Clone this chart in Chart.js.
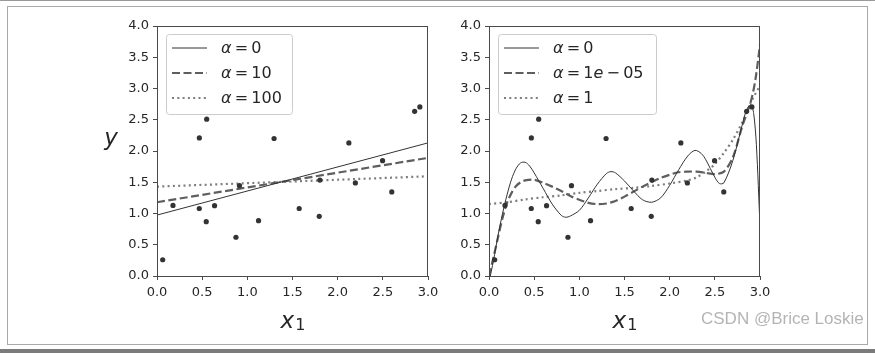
<!DOCTYPE html>
<html>
<head>
<meta charset="utf-8">
<script src="https://cdn.jsdelivr.net/npm/chart.js@4.4.1/dist/chart.umd.min.js"></script>
<style>
  html, body { margin: 0; padding: 0; background: #fff; width: 875px; height: 353px; overflow: hidden; }
  body { position: relative; }
  #topline { position: absolute; left: 0; top: 0; width: 875px; height: 1px; background: #9a9a9a; }
  #frame { position: absolute; left: 7px; top: 6px; width: 859px; height: 337px; border: 1px solid #a9a9a9; }
  #band { position: absolute; left: 0; top: 349px; width: 875px; height: 4px; background: #7b7b7b; }
  canvas { position: absolute; }
  #left { left: 90px; top: 10px; }
  #right { left: 436px; top: 10px; }
  #mark { position: absolute; left: 701px; top: 309px; font: 17px "Liberation Sans", Arial, sans-serif; color: #b4b4b4; white-space: nowrap; }
</style>
</head>
<body>
<div id="topline"></div>
<div id="frame"></div>
<div id="band"></div>
<canvas id="left" width="354" height="335"></canvas>
<canvas id="right" width="340" height="335"></canvas>
<div id="mark">CSDN @Brice Loskie</div>
<script>
const INK = '#262626';
const SPINE = '#4a4a4a';
const DOT = '#333333';

// training points (shared by both panels)
const ptsX = [0.063, 0.177, 0.469, 0.55, 0.468, 0.545, 0.637, 0.874, 0.913, 1.124, 1.296, 1.574, 1.796, 1.803, 2.124, 2.196, 2.497, 2.599, 2.852, 2.910];
const ptsY = [0.26, 1.13, 2.21, 2.51, 1.08, 0.87, 1.125, 0.62, 1.445, 0.885, 2.20, 1.08, 0.955, 1.535, 2.13, 1.49, 1.845, 1.345, 2.635, 2.705];

// left panel: plain linear ridge models
const linLabels = ['α = 0', 'α = 10', 'α = 100'];
const linX = [0, 3];
const lin0 = [0.975, 2.13];
const lin10 = [1.18, 1.89];
const lin100 = [1.43, 1.595];

// right panel: polynomial ridge models
const polyLabels = ['α = 0', 'α = 1e − 05', 'α = 1'];
const polyX0 = [0, 0.05, 0.1, 0.15, 0.2, 0.25, 0.3, 0.35, 0.4, 0.45, 0.5, 0.6, 0.7, 0.8, 0.85, 0.9, 1.0, 1.1, 1.2, 1.3, 1.35, 1.4, 1.5, 1.6, 1.7, 1.8, 1.9, 2.0, 2.1, 2.2, 2.28, 2.35, 2.4, 2.5, 2.55, 2.6, 2.7, 2.8, 2.85, 2.9, 2.93, 2.96, 3.0];
const poly0 = [-0.1, 0.25, 0.65, 1.0, 1.3, 1.55, 1.72, 1.81, 1.82, 1.76, 1.65, 1.40, 1.15, 0.97, 0.94, 0.96, 1.05, 1.25, 1.47, 1.64, 1.67, 1.65, 1.52, 1.36, 1.22, 1.18, 1.25, 1.45, 1.70, 1.92, 2.01, 1.96, 1.86, 1.58, 1.48, 1.49, 1.85, 2.40, 2.65, 2.74, 2.6, 2.1, 0.8];
const polyX1 = [0, 0.05, 0.1, 0.15, 0.2, 0.25, 0.3, 0.35, 0.4, 0.5, 0.6, 0.7, 0.8, 0.9, 1.0, 1.1, 1.2, 1.3, 1.4, 1.5, 1.6, 1.7, 1.8, 1.9, 2.0, 2.1, 2.2, 2.3, 2.4, 2.5, 2.6, 2.7, 2.8, 2.9, 2.95, 3.0];
const poly1 = [0.0, 0.30, 0.62, 0.93, 1.17, 1.33, 1.44, 1.50, 1.53, 1.54, 1.49, 1.43, 1.36, 1.28, 1.22, 1.17, 1.15, 1.16, 1.20, 1.27, 1.35, 1.43, 1.50, 1.57, 1.62, 1.66, 1.67, 1.67, 1.65, 1.63, 1.67, 1.90, 2.38, 2.80, 3.15, 3.70];
const polyX2 = [0, 0.2, 0.4, 0.6, 0.8, 1.0, 1.2, 1.4, 1.6, 1.8, 2.0, 2.2, 2.3, 2.4, 2.5, 2.6, 2.7, 2.8, 2.9, 3.0];
const poly2 = [1.15, 1.18, 1.225, 1.26, 1.29, 1.33, 1.36, 1.39, 1.41, 1.44, 1.48, 1.53, 1.58, 1.67, 1.79, 1.97, 2.18, 2.45, 2.78, 3.05];

const xTicks = [0, 0.5, 1, 1.5, 2, 2.5, 3];
const yTicks = [0, 0.5, 1, 1.5, 2, 2.5, 3, 3.5, 4];

const STYLES = [
  { color: '#333333', width: 1, dash: [] },
  { color: '#5e5e5e', width: 2.2, dash: [8, 3.5] },
  { color: '#7e7e7e', width: 2.2, dash: [2, 3.3] },
];

const zip = (xs, ys) => xs.map((x, i) => ({ x, y: ys[i] }));

function lineSet(label, xs, ys, k, tension) {
  const s = STYLES[k];
  return {
    label, data: zip(xs, ys), showLine: true, pointRadius: 0,
    borderColor: s.color, borderWidth: s.width, borderDash: s.dash,
    tension, clip: 0, fill: false,
  };
}

function pointSet() {
  return {
    label: '', data: zip(ptsX, ptsY), pointRadius: 2.6, pointBorderWidth: 0,
    pointBackgroundColor: DOT, showLine: false,
  };
}

// mathtext-ish label: letters italic, spaced binary operators
function drawMath(ctx, text, x, y, size) {
  let cx = x;
  for (const ch of text) {
    if (ch === ' ') continue;
    const pad = (ch === '=' || ch === '−') ? size * 0.2 : 0;
    ctx.font = (/[a-zα]/.test(ch) ? 'italic ' : '') + size + 'px "DejaVu Sans"';
    cx += pad;
    ctx.fillText(ch, cx, y);
    cx += ctx.measureText(ch).width + pad;
  }
}

const mplDecor = {
  id: 'mplDecor',
  afterDatasetsDraw(chart, args, o) {
    const { ctx, chartArea: a } = chart;
    ctx.save();
    // spines
    ctx.strokeStyle = SPINE;
    ctx.lineWidth = 1;
    ctx.setLineDash([]);
    ctx.strokeRect(Math.round(a.left) + 0.5, Math.round(a.top) + 0.5,
      Math.round(a.right - a.left) - 1, Math.round(a.bottom - a.top));

    // legend box
    const bx = a.left + 9, by = a.top + 8;
    ctx.beginPath();
    ctx.roundRect(bx + 0.5, by + 0.5, o.boxW, 80, 3);
    ctx.fillStyle = 'rgba(255,255,255,0.85)';
    ctx.fill();
    ctx.strokeStyle = '#cccccc';
    ctx.stroke();
    const sets = chart.data.datasets.filter((d) => d.label);
    sets.forEach((d, i) => {
      const ry = by + 14 + i * 25;
      ctx.beginPath();
      ctx.strokeStyle = d.borderColor;
      ctx.lineWidth = d.borderWidth;
      ctx.setLineDash(d.borderDash);
      ctx.moveTo(bx + 6, ry);
      ctx.lineTo(bx + 41, ry);
      ctx.stroke();
      ctx.setLineDash([]);
      ctx.fillStyle = INK;
      ctx.textBaseline = 'middle';
      drawMath(ctx, d.label, bx + 55, ry + 1, 16);
    });

    // axis labels
    ctx.fillStyle = INK;
    ctx.textBaseline = 'alphabetic';
    const cx = (a.left + a.right) / 2;
    ctx.font = 'italic 23px "DejaVu Sans"';
    const xw = ctx.measureText('x').width;
    ctx.font = '16px "DejaVu Sans"';
    const sw = ctx.measureText('1').width;
    const x0 = cx - (xw + sw) / 2;
    ctx.font = 'italic 23px "DejaVu Sans"';
    ctx.fillText('x', x0, a.bottom + 52);
    ctx.font = '16px "DejaVu Sans"';
    ctx.fillText('1', x0 + xw + 1, a.bottom + 54);
    if (o.yLabel) {
      ctx.font = 'italic 23px "DejaVu Sans"';
      ctx.textAlign = 'center';
      ctx.fillText('y', a.left - 46, a.top + 119);
    }
    ctx.restore();
  },
};

function makeChart(id, datasets, yWidth, padRight, boxW, yLabel) {
  return new Chart(document.getElementById(id), {
    type: 'scatter',
    data: { datasets },
    options: {
      responsive: false,
      animation: false,
      devicePixelRatio: 1,
      events: [],
      layout: { padding: { top: 16, right: padRight, left: 0, bottom: 0 } },
      scales: {
        x: {
          type: 'linear', min: 0, max: 3,
          afterFit: (s) => { s.height = 69; },
          afterBuildTicks: (s) => { s.ticks = xTicks.map((v) => ({ value: v })); },
          border: { display: false },
          grid: { drawOnChartArea: false, drawTicks: true, tickLength: 4, color: SPINE },
          ticks: { color: INK, font: { family: 'DejaVu Sans', size: 13 }, padding: 5, callback: (v) => v.toFixed(1) },
        },
        y: {
          type: 'linear', min: 0, max: 4,
          afterFit: (s) => { s.width = yWidth; },
          afterBuildTicks: (s) => { s.ticks = yTicks.map((v) => ({ value: v })); },
          border: { display: false },
          grid: { drawOnChartArea: false, drawTicks: true, tickLength: 4, color: SPINE },
          ticks: { color: INK, font: { family: 'DejaVu Sans', size: 13 }, padding: 4, callback: (v) => v.toFixed(1) },
        },
      },
      plugins: {
        legend: { display: false },
        tooltip: { enabled: false },
        mplDecor: { boxW, yLabel },
      },
    },
    plugins: [mplDecor],
  });
}

makeChart('left', [
  pointSet(),
  lineSet(linLabels[0], linX, lin0, 0, 0),
  lineSet(linLabels[1], linX, lin10, 1, 0),
  lineSet(linLabels[2], linX, lin100, 2, 0),
], 67, 16, 126, true);

makeChart('right', [
  pointSet(),
  lineSet(polyLabels[0], polyX0, poly0, 0, 0.3),
  lineSet(polyLabels[1], polyX1, poly1, 1, 0.3),
  lineSet(polyLabels[2], polyX2, poly2, 2, 0.3),
], 53, 16, 158, false);
</script>
</body>
</html>
